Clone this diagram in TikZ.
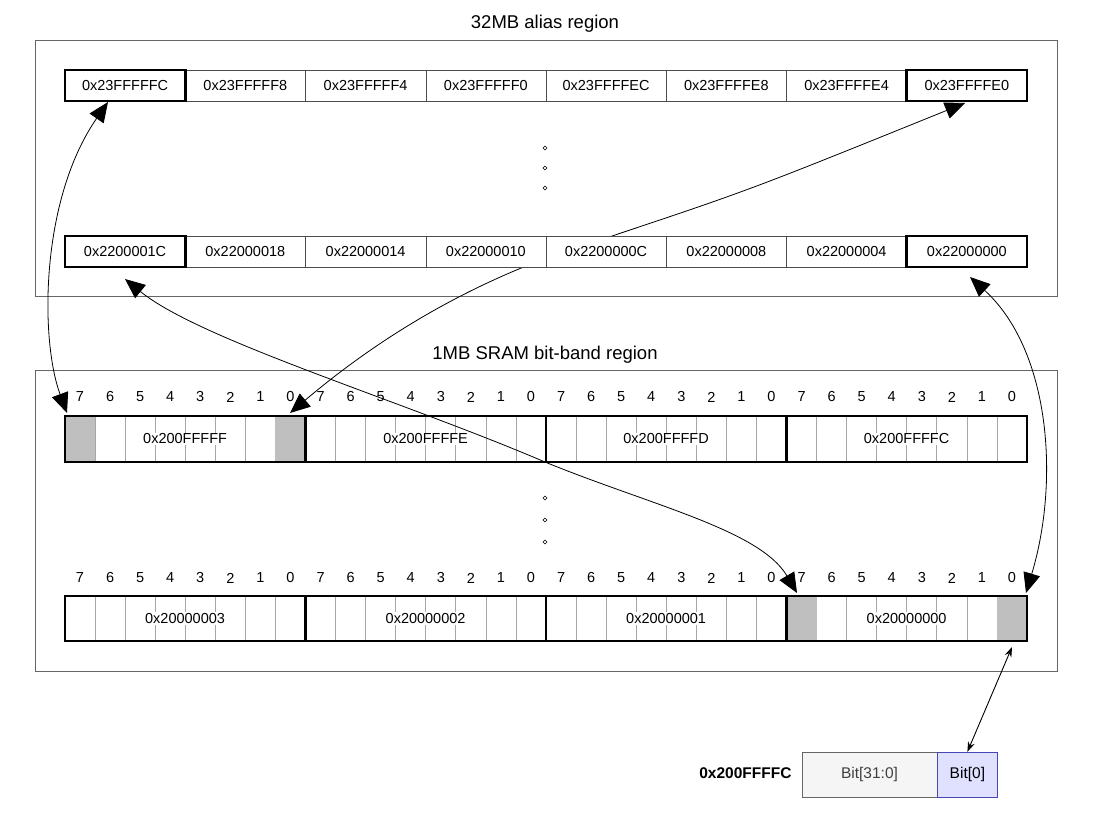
\documentclass[tikz,border=0pt]{standalone}
\usepackage{fontspec}
\setmainfont{Liberation Sans}
\usetikzlibrary{arrows.meta}
\begin{document}
\begin{tikzpicture}[x=1pt,y=-1pt,
  region/.style={draw=black!60,line width=0.8pt},
  cell/.style={draw=black!70,fill=white,minimum width=120.25pt,minimum height=31pt,inner sep=0pt,font=\fontsize{14.5}{16}\selectfont},
  bitnum/.style={font=\fontsize{14.5}{16}\selectfont},
  big/.style={{Triangle[length=20pt,width=17pt]}-{Triangle[length=20pt,width=17pt]},line width=0.8pt},
  small/.style={{Stealth[length=10pt,width=7pt]}-{Stealth[length=10pt,width=7pt]},line width=0.9pt},
  dot/.style={circle,draw,inner sep=1.4pt}]
\useasboundingbox (0,0) rectangle (1104,825);
\node[font=\fontsize{18.5}{20}\selectfont] (t1) at (545,24) {32MB alias region};
\draw[region] (35,40) rectangle (1057,296);
\node[font=\fontsize{18.5}{20}\selectfont] (t2) at (545,355) {1MB SRAM bit-band region};
\draw[region] (35,370) rectangle (1057,671);
% arrow 2 behind alias cells
\coordinate (b0a) at (290,413);
\coordinate (e0) at (965,103);
\draw[big] (b0a) .. controls (400,320) and (500,270) .. (600,240) .. controls (750,190) .. (e0);
% alias rows
\foreach \t [count=\i from 0] in {0x23FFFFFC,0x23FFFFF8,0x23FFFFF4,0x23FFFFF0,0x23FFFFEC,0x23FFFFE8,0x23FFFFE4,0x23FFFFE0}
  \node[cell] (a\i) at (125.1+120.25*\i,85.5) {\t};
\foreach \t [count=\i from 0] in {0x2200001C,0x22000018,0x22000014,0x22000010,0x2200000C,0x22000008,0x22000004,0x22000000}
  \node[cell] (c\i) at (125.1+120.25*\i,251.5) {\t};
\foreach \i in {0,7} {\draw[line width=2.2pt] (a\i.south west) rectangle (a\i.north east); \draw[line width=2.2pt] (c\i.south west) rectangle (c\i.north east);}
\foreach \y [count=\k] in {148,168,188} \node[dot] (da\k) at (545,\y) {};
% bit rows
\foreach \yb/\yn/\yt in {416/397/a,596/578/b} {
  \foreach \j in {0,...,31} {
    \pgfmathsetmacro\xl{65+30.0625*\j}
    \pgfmathtruncatemacro\bn{7-mod(\j,8)}
    \node[bitnum] at (\xl+15.03,\yn) {\bn};
    \draw[black!35,line width=0.7pt] (\xl,\yb) -- (\xl,\yb+46);
  }
}
\fill[black!25] (65,416) rectangle (95,462);
\fill[black!25] (275,416) rectangle (305,462);
\fill[black!25] (787,596) rectangle (817,641);
\fill[black!25] (997,596) rectangle (1027,641);
\foreach \t [count=\i from 0] in {0x200FFFFF,0x200FFFFE,0x200FFFFD,0x200FFFFC}
  \node[fill=white,inner sep=1pt,font=\fontsize{14.5}{16}\selectfont] (u\i) at (185.1+240.5*\i,439) {\t};
\foreach \t [count=\i from 0] in {0x20000003,0x20000002,0x20000001,0x20000000}
  \node[fill=white,inner sep=1pt,font=\fontsize{14.5}{16}\selectfont] (l\i) at (185.1+240.5*\i,618.5) {\t};
\foreach \i in {0,...,3} {
  \draw[line width=2.2pt] (65+240.5*\i,416) rectangle (305.5+240.5*\i,462);
  \draw[line width=2.2pt] (65+240.5*\i,596) rectangle (305.5+240.5*\i,641);
}
\foreach \y [count=\k] in {498,520,542} \node[dot] (db\k) at (545,\y) {};
% arrows
\coordinate (p1a) at (108,102); \coordinate (p1b) at (67,413);
\draw[big] (p1a) .. controls (40,200) and (40,340) .. (p1b);
\coordinate (p3a) at (125,279); \coordinate (p3b) at (797,593);
\draw[big] (p3a) .. controls (200,340) and (400,400) .. (545,462) .. controls (650,505) and (760,530) .. (p3b);
\coordinate (p4a) at (970,277); \coordinate (p4b) at (1026,593);
\draw[big] (p4a) .. controls (1050,350) and (1060,480) .. (p4b);
% bottom boxes
\node[draw=black!60,fill=black!4,minimum width=135pt,minimum height=45pt,inner sep=0pt,text=black!75,font=\fontsize{15.5}{17}\selectfont] (w) at (869.5,774.5) {Bit[31:0]};
\node[draw=blue!45!gray,fill=blue!12,minimum width=60pt,minimum height=45pt,inner sep=0pt,font=\fontsize{15.5}{17}\selectfont,anchor=west] (b) at (w.east) {Bit[0]};
\node[anchor=east,font=\bfseries\fontsize{15.5}{17}\selectfont] (lab) at (795,773) {0x200FFFFC};
\coordinate (s1) at (1012,647);
\draw[small] (s1) -- (b.north);
\end{tikzpicture}
\end{document}
